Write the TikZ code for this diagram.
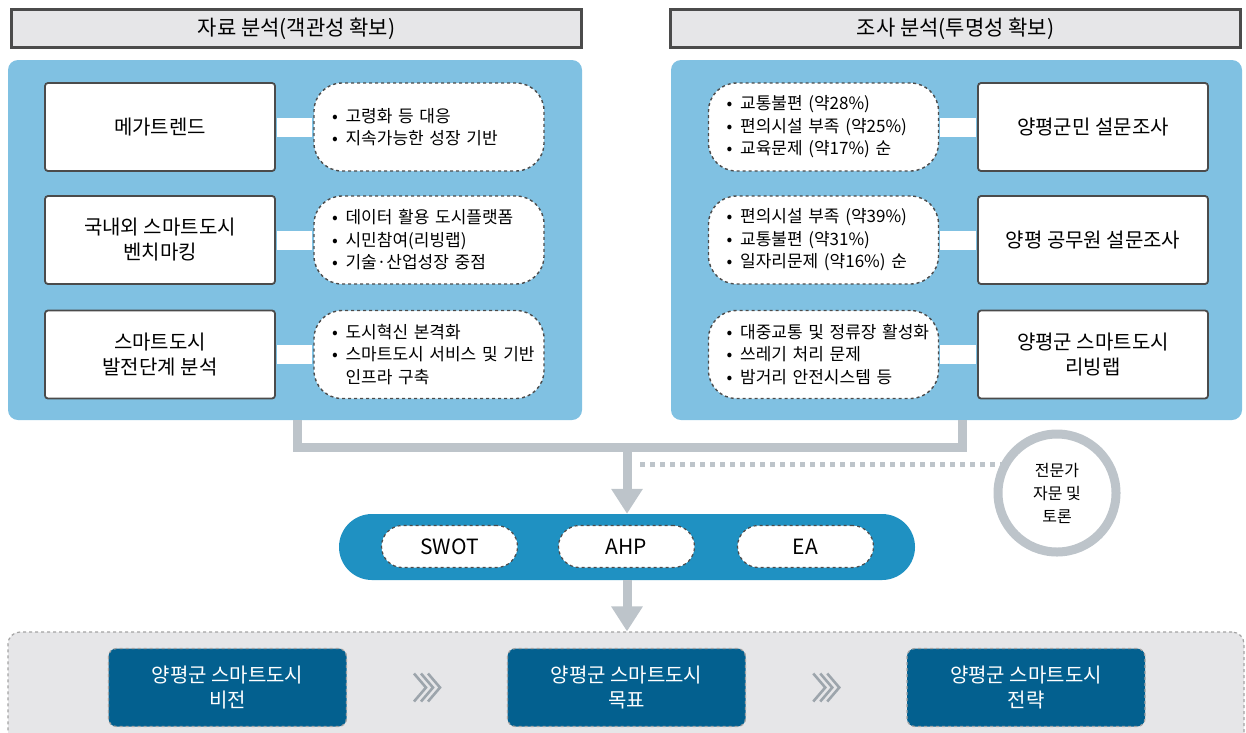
\documentclass[tikz,border=0pt]{standalone}
\usepackage{fontspec}
\setmainfont{Noto Sans CJK KR}
\usetikzlibrary{arrows.meta,calc}
\definecolor{panelblue}{HTML}{80C1E2}
\definecolor{pillblue}{HTML}{1F91C2}
\definecolor{deepblue}{HTML}{03608F}
\definecolor{flowgray}{HTML}{BDC4CA}
\definecolor{headgray}{HTML}{E6E6E8}
\definecolor{edgegray}{HTML}{4B4B4B}
\definecolor{dashgray}{HTML}{A3A3A3}
\definecolor{chevgray}{HTML}{9DA5AC}
\newcommand{\bl}[1]{\mbox{\makebox[0.8em][l]{•}#1}}
\newcommand{\nobl}[1]{\mbox{\hspace*{0.8em}#1}}

\begin{document}
\begin{tikzpicture}[x=1pt,y=-1pt,
	header/.style={draw=edgegray,line width=3pt,fill=headgray,minimum width=570pt,minimum height=38pt,font=\fontsize{21}{24}\selectfont},
	panel/.style={fill=panelblue,rounded corners=10pt,minimum height=360pt},
	topic/.style={draw=edgegray,line width=1.8pt,fill=white,rounded corners=3pt,minimum width=230pt,minimum height=88pt,align=center,font=\fontsize{20}{25}\selectfont},
	note/.style={draw=edgegray,dashed,line width=1.4pt,fill=white,rounded corners=28pt,minimum height=88pt,align=left,inner xsep=18pt,text width=194pt,font=\fontsize{17}{22.5}\selectfont},
	band/.style={white,line width=19pt,shorten <=1pt,shorten >=1pt},
	flow/.style={flowgray,line width=9pt},
	flowtip/.style={flow,-{Triangle[width=30pt,length=25pt]}},
	dots/.style={flowgray,line width=5pt,dash pattern=on 5pt off 5pt},
	tool/.style={draw=edgegray,dashed,line width=1.2pt,fill=white,rounded corners=21pt,minimum width=136pt,minimum height=42pt,font=\fontsize{21}{24}\selectfont},
	goal/.style={draw=dashgray,dashed,line width=1.2pt,fill=deepblue,rounded corners=8pt,minimum width=238pt,minimum height=78pt,align=center,text=white,font=\fontsize{20}{25}\selectfont},
	chev/.style={chevgray,line width=2.6pt}
]
\useasboundingbox (0,0) rectangle (1246,732);

\node[header] (hdA) at (296.5,28.5) {자료 분석(객관성 확보)};
\node[header] (hdB) at (955.5,28.5) {조사 분석(투명성 확보)};

\node[panel,minimum width=574pt] (lp) at (295,240) {};
\node[panel,minimum width=571pt] (rp) at (956.5,240) {};

\node[topic] (m1) at (160,127) {메가트렌드};
\node[topic] (m2) at (160,240) {국내외 스마트도시\\벤치마킹};
\node[topic] (m3) at (160,354.5) {스마트도시\\발전단계 분석};

\node[note] (n1) at (429,127) {\bl{고령화 등 대응}\\\bl{지속가능한 성장 기반}};
\node[note] (n2) at (429,240) {\bl{데이터 활용 도시플랫폼}\\\bl{시민참여(리빙랩)}\\\bl{기술·산업성장 중점}};
\node[note] (n3) at (429,354.5) {\bl{도시혁신 본격화}\\\bl{스마트도시 서비스 및 기반}\\\nobl{인프라 구축}};

\begin{scope}[every node/.append style={inner xsep=10pt,text width=210pt}]
\node[note] (r1) at (823.5,127) {\bl{교통불편 (약28\%)}\\\bl{편의시설 부족 (약25\%)}\\\bl{교육문제 (약17\%) 순}};
\node[note] (r2) at (823.5,240) {\bl{편의시설 부족 (약39\%)}\\\bl{교통불편 (약31\%)}\\\bl{일자리문제 (약16\%) 순}};
\node[note] (r3) at (823.5,354.5) {\bl{대중교통 및 정류장 활성화}\\\bl{쓰레기 처리 문제}\\\bl{밤거리 안전시스템 등}};
\end{scope}

\node[topic] (s1) at (1093,127) {양평군민 설문조사};
\node[topic] (s2) at (1093,240) {양평 공무원 설문조사};
\node[topic] (s3) at (1093,354.5) {양평군 스마트도시\\리빙랩};

\foreach \i in {1,2,3} {
	\draw[band] (m\i.east) -- (n\i.west);
	\draw[band] (r\i.east) -- (s\i.west);
}

\node[fill=pillblue,rounded corners=33pt,minimum width=576pt,minimum height=66pt] (tools) at (627,547) {};
\node[tool] (swot) at (449.5,546.5) {SWOT};
\node[tool] (ahp) at (626.5,546.5) {AHP};
\node[tool] (ea) at (805.5,546.5) {EA};

\coordinate (hub) at (627,447);
\coordinate (tap) at (640,464);
\draw[flow] ([xshift=2pt]lp.south) |- (hub) -| ([xshift=5.5pt]rp.south);
\draw[flowtip] (hub) -- (tools.north);

\node[circle,draw=flowgray,line width=9pt,fill=white,minimum size=118pt,align=center,font=\fontsize{16}{23}\selectfont] (expert) at (1057,493) {전문가\\자문 및\\토론};
\draw[dots] (tap) -- (tap -| expert.150);

\node[draw=dashgray,dashed,line width=1.2pt,fill=headgray,rounded corners=12pt,minimum width=1236pt,minimum height=112pt] (goalbox) at (626,688) {};
\draw[flowtip] (tools.south) -- (tools.south |- goalbox.north);

\node[goal] (vision) at (227.5,687.5) {양평군 스마트도시\\비전};
\node[goal] (target) at (626.5,687.5) {양평군 스마트도시\\목표};
\node[goal] (strategy) at (1026,687.5) {양평군 스마트도시\\전략};

\foreach \a/\b in {vision/target,target/strategy}
	\foreach \k in {-1,0,1}
		\draw[chev] ($(\a.east)!0.5!(\b.west)$) +(\k*7-6,-14) -- +(\k*7+6,0) -- +(\k*7-6,14);
\end{tikzpicture}
\end{document}
